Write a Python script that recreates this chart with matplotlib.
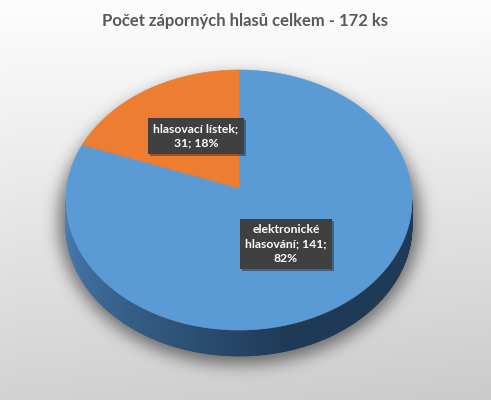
import numpy as np
import matplotlib
matplotlib.use('Agg')
import matplotlib.pyplot as plt
from matplotlib.patches import Polygon
import matplotlib.patheffects as pe

plt.rcParams['font.family'] = ['Lato', 'DejaVu Sans']

# data
title = 'Počet záporných hlasů celkem - 172 ks'
categories = ['elektronické\nhlasování; 141;\n82%', 'hlasovací lístek;\n31; 18%']
values = [141, 31]
top_colors = ['#5b9bd5', '#ed7d31']
side_light = ['#4a7fb6', '#c0631f']
side_dark = ['#1f3a56', '#6e3a12']
label_pos = [(286, 244), (196, 136)]

W, H = 491, 400
fig = plt.figure(figsize=(W / 100, H / 100), dpi=100)
ax = fig.add_axes([0, 0, 1, 1])
ax.set_xlim(0, W)
ax.set_ylim(H, 0)
ax.axis('off')

cx, cy, rx, ry, depth = 239, 200, 173, 130, 26
apex_dy = -12

# background gradient
yy, xx = np.mgrid[0:H, 0:W]
g = 0.995 - 0.17 * (yy / H) - 0.03 * (xx / W) * (yy / H)
bg = np.dstack([g, g, g])

# blurred shadow under the pie
mask = (((xx - cx) / (rx + 8)) ** 2 + ((yy - (cy + 20)) / (ry + 14)) ** 2 <= 1).astype(float)
k = np.exp(-0.5 * (np.arange(-24, 25) / 8.0) ** 2)
k /= k.sum()
mask = np.apply_along_axis(lambda r: np.convolve(r, k, mode='same'), 1, mask)
mask = np.apply_along_axis(lambda c: np.convolve(c, k, mode='same'), 0, mask)
bg = bg * (1 - 0.5 * mask[..., None])
ax.imshow(np.clip(bg, 0, 1), extent=[0, W, H, 0], aspect='auto', zorder=0)

total = sum(values)
spans = []
a = 90.0
for v in values:
    spans.append((a, a - v / total * 360))
    a -= v / total * 360


def ell(t, dy=0):
    t = np.radians(t)
    return cx + rx * np.cos(t), cy - ry * np.sin(t) + dy


# side wall (front half only)
for (a0, a1), cl, cd in zip(spans, side_light, side_dark):
    c0 = np.array(matplotlib.colors.to_rgb(cl))
    c1 = np.array(matplotlib.colors.to_rgb(cd))
    ts = np.linspace(a0, a1, 400)
    for t0, t1 in zip(ts[:-1], ts[1:]):
        tm = ((t0 + t1) / 2) % 360
        if not (180 <= tm <= 360):
            continue
        s = min(1, (tm - 180) / 180 * 1.7)
        col = c0 * (1 - s) + c1 * s
        p0 = ell(t0)
        p1 = ell(t1)
        poly = [p0, p1, (p1[0], p1[1] + depth), (p0[0], p0[1] + depth)]
        ax.add_patch(Polygon(poly, closed=True, fc=col, ec=col, lw=0.6, zorder=2))

# top faces
for (a0, a1), c in zip(spans, top_colors):
    ts = np.linspace(a0, a1, 300)
    pts = [(cx, cy + apex_dy)] + [ell(t) for t in ts]
    ax.add_patch(Polygon(pts, closed=True, fc=c, ec=c, lw=0.5, zorder=3))

# labels
for txt, (x, y) in zip(categories, label_pos):
    t = ax.text(x, y, txt, ha='center', va='center', color='white', fontsize=8.7,
                fontweight='bold', linespacing=1.35, zorder=5,
                bbox=dict(boxstyle='square,pad=0.45', fc='#404040', ec='none'))
    t.get_bbox_patch().set_path_effects([pe.SimplePatchShadow(offset=(1.5, -1.5), alpha=0.4), pe.Normal()])

ax.text(W / 2, 21, title, ha='center', va='center', fontsize=12, fontweight='bold',
        color='#595959', zorder=5)

fig.savefig('out.png', dpi=100)
